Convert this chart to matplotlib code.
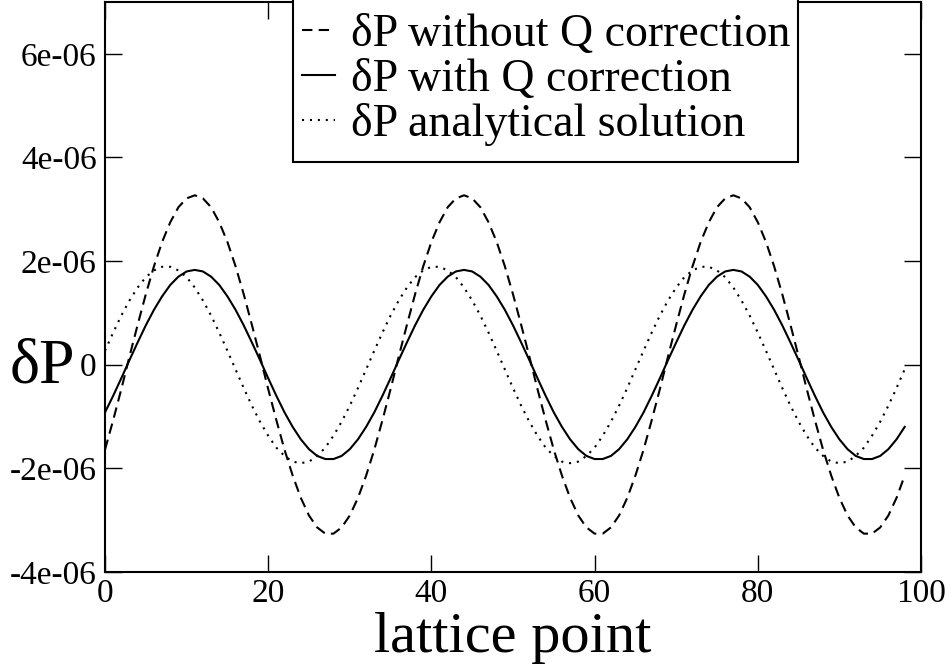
import numpy as np
import matplotlib
matplotlib.use("Agg")
import matplotlib.pyplot as plt
from matplotlib.patches import Rectangle

# lattice points 0..98
x = np.arange(99)

# values, in units of 1e-6
dp_no_q = [
    -1.64, -1.07, -0.47, 0.16, 0.77, 1.36, 1.90, 2.37, 2.75, 3.04, 3.21,
    3.27,
    3.21, 3.04, 2.75, 2.37, 1.90, 1.36, 0.77, 0.16, -0.47, -1.07, -1.64, -2.14, -2.57, -2.91, -3.14, -3.26,
    -3.26, -3.14, -2.91, -2.57, -2.14, -1.64, -1.07, -0.47, 0.16, 0.77, 1.36, 1.90, 2.37, 2.75, 3.04, 3.21,
    3.27,
    3.21, 3.04, 2.75, 2.37, 1.90, 1.36, 0.77, 0.16, -0.47, -1.07, -1.64, -2.14, -2.57, -2.91, -3.14, -3.26,
    -3.26, -3.14, -2.91, -2.57, -2.14, -1.64, -1.07, -0.47, 0.16, 0.77, 1.36, 1.90, 2.37, 2.75, 3.04, 3.21,
    3.27,
    3.21, 3.04, 2.75, 2.37, 1.90, 1.36, 0.77, 0.16, -0.47, -1.07, -1.64, -2.14, -2.57, -2.91, -3.14, -3.26,
    -3.26, -3.14, -2.91, -2.57, -2.14,
]

dp_with_q = [
    -0.92, -0.60, -0.26, 0.09, 0.43, 0.76, 1.06, 1.32, 1.54, 1.70, 1.80,
    1.83,
    1.80, 1.70, 1.54, 1.32, 1.06, 0.76, 0.43, 0.09, -0.26, -0.60, -0.92, -1.20, -1.44, -1.63, -1.76, -1.82,
    -1.82, -1.76, -1.63, -1.44, -1.20, -0.92, -0.60, -0.26, 0.09, 0.43, 0.76, 1.06, 1.32, 1.54, 1.70, 1.80,
    1.83,
    1.80, 1.70, 1.54, 1.32, 1.06, 0.76, 0.43, 0.09, -0.26, -0.60, -0.92, -1.20, -1.44, -1.63, -1.76, -1.82,
    -1.82, -1.76, -1.63, -1.44, -1.20, -0.92, -0.60, -0.26, 0.09, 0.43, 0.76, 1.06, 1.32, 1.54, 1.70, 1.80,
    1.83,
    1.80, 1.70, 1.54, 1.32, 1.06, 0.76, 0.43, 0.09, -0.26, -0.60, -0.92, -1.20, -1.44, -1.63, -1.76, -1.82,
    -1.82, -1.76, -1.63, -1.44, -1.20,
]

dp_analytic = [
    0.27, 0.62, 0.95, 1.24, 1.49, 1.69, 1.82, 1.89,
    1.89, 1.82, 1.69, 1.49, 1.24, 0.95, 0.62, 0.27, -0.09, -0.45, -0.79, -1.10, -1.37, -1.60, -1.76, -1.87, -1.90,
    -1.87, -1.76, -1.60, -1.37, -1.10, -0.79, -0.45, -0.09, 0.27, 0.62, 0.95, 1.24, 1.49, 1.69, 1.82, 1.89,
    1.89, 1.82, 1.69, 1.49, 1.24, 0.95, 0.62, 0.27, -0.09, -0.45, -0.79, -1.10, -1.37, -1.60, -1.76, -1.87, -1.90,
    -1.87, -1.76, -1.60, -1.37, -1.10, -0.79, -0.45, -0.09, 0.27, 0.62, 0.95, 1.24, 1.49, 1.69, 1.82, 1.89,
    1.89, 1.82, 1.69, 1.49, 1.24, 0.95, 0.62, 0.27, -0.09, -0.45, -0.79, -1.10, -1.37, -1.60, -1.76, -1.87, -1.90,
    -1.87, -1.76, -1.60, -1.37, -1.10, -0.79, -0.45, -0.09,
]

labels = ["δP without Q correction", "δP with Q correction", "δP analytical solution"]
xticks = [0, 20, 40, 60, 80, 100]
yticks = [-4e-06, -2e-06, 0, 2e-06, 4e-06, 6e-06]
ytick_labels = ["-4e-06", "-2e-06", "0", "2e-06", "4e-06", "6e-06"]

plt.rcParams["font.family"] = ["Liberation Serif", "DejaVu Serif"]

fig = plt.figure(figsize=(9.53, 6.66), dpi=100)
ax = fig.add_axes([105 / 953, 94 / 666, 816 / 953, 570 / 666])

scale = 1e-6
ax.plot(x, np.array(dp_no_q) * scale, color="black", lw=1.5,
        linestyle=(0, (5, 3)), label=labels[0])
ax.plot(x, np.array(dp_with_q) * scale, color="black", lw=1.5,
        linestyle="-", label=labels[1])
ax.plot(x, np.array(dp_analytic) * scale, color="black", lw=1.5,
        linestyle=(0, (1, 2.8)), label=labels[2])

ax.set_xlim(0, 100)
ax.set_ylim(-4e-06, 7e-06)
ax.set_xticks(xticks)
ax.set_yticks(yticks)
ax.set_yticklabels(ytick_labels)

for s in ax.spines.values():
    s.set_linewidth(1.5)
ax.tick_params(axis="both", direction="in", length=12, width=1,
               top=True, right=True, labelsize=24)
ax.tick_params(axis="x", pad=5)
ax.tick_params(axis="y", pad=6)

ax.set_xlabel("lattice point", fontsize=42, labelpad=2)
ax.set_ylabel("δP", fontsize=46, rotation=0, ha="center", va="baseline")
ax.yaxis.set_label_coords(-0.077, 0.333)

# legend box drawn separately so the padding can be taller than wide
box = Rectangle((0.2298, 0.7193), 0.6195, 0.293, transform=ax.transAxes,
                facecolor="white", edgecolor="black", lw=1.5,
                clip_on=False, zorder=4.5)
ax.add_patch(box)
leg = ax.legend(loc="upper left", bbox_to_anchor=(0.2298, 0.9955),
                fontsize=33, frameon=False, handlelength=0.72,
                handletextpad=0.35, borderpad=0.2, labelspacing=0.05,
                borderaxespad=0)
leg.set_zorder(5)

fig.savefig("out.png", dpi=100)
